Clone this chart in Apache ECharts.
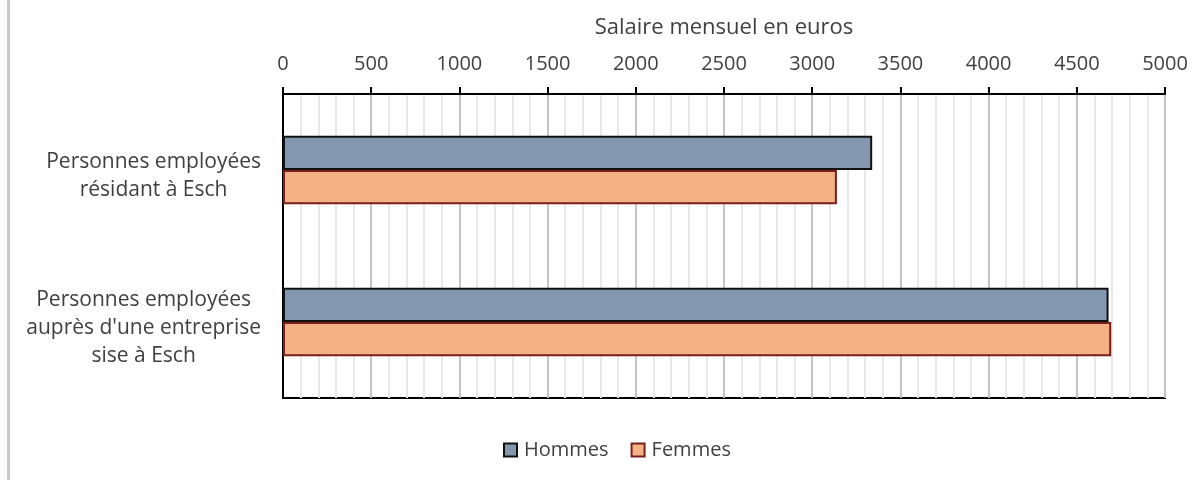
<!DOCTYPE html>
<html>
<head>
    <meta charset="utf-8"/>
    <script src="https://cdn.jsdelivr.net/npm/echarts@6/dist/echarts.min.js"></script>
</head>
<body style="margin:0">
<div id="main" style="width:1195px;height:480px;"></div>
<script type="text/javascript">
    // données
    var categories = ['Personnes employées\nrésidant à Esch', 'Personnes employées\nauprès d\'une entreprise\nsise à Esch'];
    var hommes = [3340, 4680];
    var femmes = [3140, 4695];

    var chartDom = document.getElementById('main');
    var myChart = echarts.init(chartDom);
    var txt = '#404040';
    var font = 'Open Sans';

    var option = {
        animation: false,
        textStyle: { fontFamily: font },
        graphic: [
            { type: 'rect', shape: { x: 7, y: 0, width: 3, height: 480 }, style: { fill: '#c8c8c8' } }
        ],
        grid: {
            left: 283, right: 30, top: 94, bottom: 82,
            show: true, borderColor: '#000', borderWidth: 2
        },
        legend: {
            bottom: 20, left: 503, padding: 0,
            itemWidth: 13, itemHeight: 13, itemGap: 22,
            icon: 'rect',
            textStyle: { color: txt, fontSize: 20, fontFamily: font, padding: [0, 0, 0, 2] },
            data: ['Hommes', 'Femmes']
        },
        xAxis: {
            type: 'value', position: 'top',
            min: 0, max: 5000, interval: 500,
            name: 'Salaire mensuel en euros',
            nameLocation: 'middle', nameGap: 55,
            nameTextStyle: { color: txt, fontSize: 22 },
            axisLine: { show: true, lineStyle: { color: '#000', width: 2 } },
            axisTick: { show: true, length: 7, lineStyle: { color: '#000', width: 2 } },
            axisLabel: { color: txt, fontSize: 20, margin: 20, formatter: function (v) { return String(v); } },
            splitLine: { show: true, lineStyle: { color: '#c4c4c4', width: 2 } },
            minorTick: { show: false, splitNumber: 5 },
            minorSplitLine: { show: true, lineStyle: { color: '#e8e8e8', width: 2 } }
        },
        yAxis: {
            type: 'category', inverse: true,
            data: categories,
            axisLine: { lineStyle: { color: '#000', width: 2 } },
            axisTick: { length: 10, lineStyle: { color: '#000', width: 2 } },
            axisLabel: {
                color: txt, fontSize: 21, margin: 22, lineHeight: 28,
                padding: [12, 0, 0, 0],
                formatter: function (v) {
                    return v.split('\n').map(function (l) { return '{c|' + l + '}'; }).join('\n');
                },
                rich: { c: { align: 'center', color: txt, fontSize: 21, lineHeight: 28, fontFamily: font } }
            }
        },
        series: [
            {
                name: 'Hommes', type: 'bar', data: hommes,
                barGap: '0%', barCategoryGap: '55%',
                itemStyle: { color: '#8497b0', borderColor: '#111', borderWidth: 2 }
            },
            {
                name: 'Femmes', type: 'bar', data: femmes,
                itemStyle: { color: '#f4b183', borderColor: '#7a1f1f', borderWidth: 2 }
            }
        ]
    };

    myChart.setOption(option);
</script>
</body>
</html>
